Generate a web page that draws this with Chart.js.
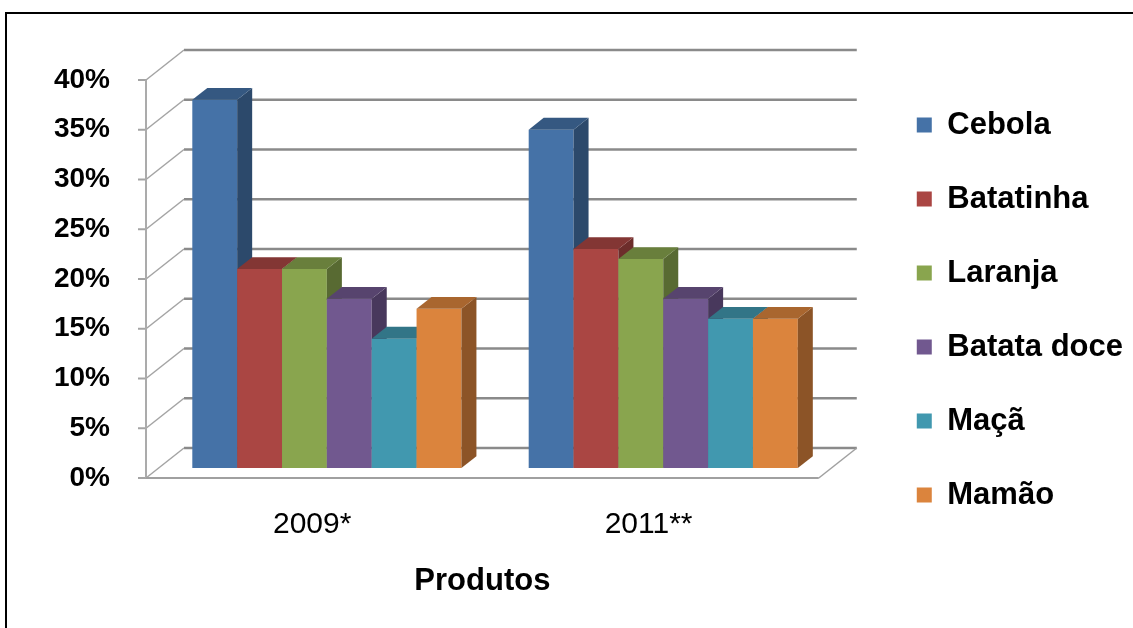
<!DOCTYPE html>
<html>
<head>
<meta charset="utf-8">
<script src="https://cdn.jsdelivr.net/npm/chart.js@4.4.0/dist/chart.umd.min.js"></script>
<style>
  html, body { margin: 0; padding: 0; background: #fff; }
  canvas { display: block; }
</style>
</head>
<body>
<canvas id="myChart" width="1133" height="628"></canvas>
<script>
const categories = ['2009*', '2011**'];
const seriesNames = ['Cebola', 'Batatinha', 'Laranja', 'Batata doce', 'Maçã', 'Mamão'];
const cebola = [37, 34];
const batatinha = [20, 22];
const laranja = [20, 21];
const batataDoce = [17, 17];
const maca = [13, 15];
const mamao = [16, 15];
const seriesValues = [cebola, batatinha, laranja, batataDoce, maca, mamao];
const seriesColors = ['#4572A7', '#AA4643', '#89A54E', '#71588F', '#4198AF', '#DB843D'];
const yMin = 0;
const yMax = 40;
const yStep = 5;

const fontFamily = "'Liberation Sans', Arial, sans-serif";

// fake 3d: offset of the back wall, where the bars stand, how deep they are
const wallDx = 38;
const wallDy = -30;
const barShift = 1 / 3;
const barDepth = 0.395;

function shade(hex, k) {
    const n = parseInt(hex.slice(1), 16);
    const r = Math.round(((n >> 16) & 255) * k);
    const g = Math.round(((n >> 8) & 255) * k);
    const b = Math.round((n & 255) * k);
    return `rgb(${r}, ${g}, ${b})`;
}

function line(ctx, x1, y1, x2, y2) {
    ctx.beginPath();
    ctx.moveTo(x1, y1);
    ctx.lineTo(x2, y2);
    ctx.stroke();
}

function poly(ctx, pts) {
    ctx.beginPath();
    ctx.moveTo(pts[0][0], pts[0][1]);
    for (let i = 1; i < pts.length; i++) ctx.lineTo(pts[i][0], pts[i][1]);
    ctx.closePath();
    ctx.fill();
}

const threeD = {
    id: 'threeD',
    beforeDraw(chart) {
        const ctx = chart.ctx;
        ctx.save();
        ctx.fillStyle = '#fff';
        ctx.fillRect(0, 0, chart.width, chart.height);
        ctx.strokeStyle = '#000';
        ctx.lineWidth = 2;
        ctx.strokeRect(6, 13, chart.width + 40, chart.height + 40);
        ctx.restore();
    },
    beforeDatasetsDraw(chart) {
        const ctx = chart.ctx;
        const area = chart.chartArea;
        const y = chart.scales.y;
        const left = area.left;
        const right = area.right;
        const bottom = y.getPixelForValue(yMin);
        const top = y.getPixelForValue(yMax);

        ctx.save();
        y.ticks.forEach(t => {
            const py = y.getPixelForValue(t.value);
            ctx.strokeStyle = '#8a8a8a';
            ctx.lineWidth = 2.5;
            line(ctx, left + wallDx, py + wallDy, right + wallDx, py + wallDy);
            ctx.strokeStyle = '#a4a4a4';
            ctx.lineWidth = 1.5;
            line(ctx, left, py, left + wallDx, py + wallDy);
            ctx.lineWidth = 2;
            line(ctx, left - 8, py, left, py);
        });
        // front axis and floor
        ctx.strokeStyle = '#ababab';
        ctx.lineWidth = 2;
        line(ctx, left, top, left, bottom);
        ctx.strokeStyle = '#a0a0a0';
        line(ctx, left, bottom, right, bottom);
        ctx.lineWidth = 1.5;
        line(ctx, right, bottom, right + wallDx, bottom + wallDy);
        ctx.restore();

        // bars: front from chart.js, then side and top, left to right
        ctx.save();
        ctx.translate(wallDx * barShift, wallDy * barShift);
        const dx = wallDx * barDepth;
        const dy = wallDy * barDepth;
        chart.data.datasets.forEach((ds, i) => {
            const meta = chart.getDatasetMeta(i);
            const color = seriesColors[i];
            meta.data.forEach(bar => {
                bar.draw(ctx);
                const p = bar.getProps(['x', 'y', 'base', 'width'], true);
                const l = p.x - p.width / 2;
                const r = p.x + p.width / 2;
                ctx.fillStyle = shade(color, 0.64);
                poly(ctx, [[r, p.y], [r + dx, p.y + dy], [r + dx, p.base + dy], [r, p.base]]);
                ctx.fillStyle = shade(color, 0.77);
                poly(ctx, [[l, p.y], [l + dx, p.y + dy], [r + dx, p.y + dy], [r, p.y]]);
            });
        });
        ctx.restore();
        return false;
    }
};

const ctx = document.getElementById('myChart').getContext('2d');
const myChart = new Chart(ctx, {
    type: 'bar',
    data: {
        labels: categories,
        datasets: seriesNames.map((name, i) => ({
            label: name,
            data: seriesValues[i],
            backgroundColor: seriesColors[i],
            borderWidth: 0,
            categoryPercentage: 0.8,
            barPercentage: 1
        }))
    },
    options: {
        responsive: false,
        animation: false,
        layout: { padding: { left: 0, right: 0, top: 0, bottom: 8 } },
        plugins: {
            // empty title only reserves the space above the plot
            title: {
                display: true,
                text: '',
                padding: { top: 0, bottom: 70 },
                font: { size: 10, lineHeight: 1 }
            },
            legend: {
                position: 'right',
                maxWidth: 300,
                labels: {
                    boxWidth: 15,
                    boxHeight: 15,
                    padding: 43,
                    color: '#000',
                    font: { family: fontFamily, size: 31, weight: 'bold' }
                }
            },
            tooltip: { enabled: false }
        },
        scales: {
            x: {
                grid: { display: false, drawTicks: false },
                border: { display: false },
                ticks: {
                    color: '#000',
                    padding: 29,
                    labelOffset: -2,
                    maxRotation: 0,
                    font: { family: fontFamily, size: 30 }
                },
                title: {
                    display: true,
                    text: 'Produtos',
                    color: '#000',
                    padding: { top: 0, bottom: 20 },
                    font: { family: fontFamily, size: 31, weight: 'bold' }
                },
                afterFit: s => { s.height = 142; }
            },
            y: {
                min: yMin,
                max: yMax,
                grid: { display: false, drawTicks: false },
                border: { display: false },
                ticks: {
                    stepSize: yStep,
                    color: '#000',
                    padding: 36,
                    font: { family: fontFamily, size: 28, weight: 'bold' },
                    callback: v => v + '%'
                },
                afterFit: s => { s.width = 146; }
            },
            // empty axis on the right keeps room for the 3d wall before the legend
            spacer: {
                type: 'linear',
                position: 'right',
                grid: { display: false, drawTicks: false },
                border: { display: false },
                ticks: { display: false },
                afterFit: s => { s.width = 55; }
            }
        }
    },
    plugins: [threeD]
});
</script>
</body>
</html>
